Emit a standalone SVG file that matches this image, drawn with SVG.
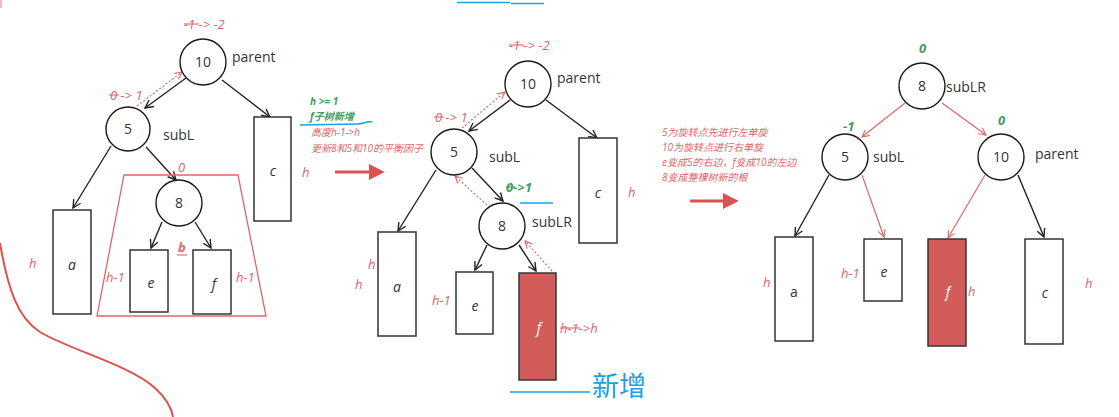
<svg xmlns="http://www.w3.org/2000/svg" width="1119" height="417" viewBox="0 0 1119 417">
<defs>
<style>
.bg{fill:#ffffff}
.nd{fill:#ffffff;stroke:#1a1a1a;stroke-width:1.4}
.bx{fill:#ffffff;stroke:#333333;stroke-width:1.5}
.bxr{fill:#d15c5a;stroke:#333333;stroke-width:1.5}
.num{font-family:"Open Sans","Liberation Sans",sans-serif;font-size:14px;fill:#333333;text-anchor:middle}
.lbl{font-family:"Open Sans","Liberation Sans",sans-serif;font-size:14px;fill:#333333}
.it{font-family:"Open Sans","Liberation Sans",sans-serif;font-size:14px;font-style:italic;fill:#333333;text-anchor:middle}
.itw{font-family:"Open Sans","Liberation Sans",sans-serif;font-size:14px;font-style:italic;fill:#ffffff;text-anchor:middle}
.rt{font-family:"Open Sans","Liberation Sans",sans-serif;font-size:13px;font-style:italic;fill:#e06666}
.gt{font-family:"Open Sans","Liberation Sans",sans-serif;font-size:13px;font-style:italic;font-weight:bold;fill:#449a5b}
.cjr{font-family:"Open Sans","Noto Sans CJK SC",sans-serif;font-size:10px;font-style:italic;fill:#e06666}
.cjg{font-family:"Open Sans","Noto Sans CJK SC",sans-serif;font-size:10px;font-style:italic;font-weight:bold;fill:#449a5b}
.blk{fill:none;stroke:#222222;stroke-width:1.4;marker-end:url(#ab)}
.red{fill:none;stroke:#e06666;stroke-width:1.2;marker-end:url(#ar)}
.dot{fill:none;stroke:#e06666;stroke-width:1.2;stroke-dasharray:2 2;marker-end:url(#ar)}
.strk{stroke:#e06666;stroke-width:1.1}
.strkg{stroke:#449a5b;stroke-width:1.1}
.big{fill:none;stroke:#d9534f;stroke-width:3}
.blue{fill:none;stroke:#1ba1e2;stroke-width:1.5}
</style>
<marker id="ab" viewBox="0 0 10 10" refX="9" refY="5" markerWidth="10" markerHeight="10" markerUnits="userSpaceOnUse" orient="auto">
<path d="M1,1 L9,5 L1,9" fill="none" stroke="#222222" stroke-width="1.4"/>
</marker>
<marker id="ar" viewBox="0 0 10 10" refX="9" refY="5" markerWidth="9" markerHeight="9" markerUnits="userSpaceOnUse" orient="auto">
<path d="M1,1 L9,5 L1,9" fill="none" stroke="#e06666" stroke-width="1.2"/>
</marker>
<marker id="af" viewBox="0 0 10 10" refX="2" refY="5" markerWidth="16" markerHeight="16" markerUnits="userSpaceOnUse" orient="auto">
<path d="M0,0 L10,5 L0,10 Z" fill="#d9534f"/>
</marker>
</defs>
<rect class="bg" x="0" y="0" width="1119" height="417"/>

<!-- decorations -->
<g id="decor">
<line x1="1" y1="0" x2="1" y2="8" stroke="#f4b8b8" stroke-width="2"/>
<path d="M0,243 C8,290 18,318 40,332 C70,350 130,365 155,388 C168,400 172,410 173,417" fill="none" stroke="#d9534f" stroke-width="2"/>
<path d="M457,2.5 L510,2.5 M511,3.5 L544,3.5" class="blue"/>
</g>

<!-- connectors -->
<g id="connectors">
<!-- left tree -->
<line class="blk" x1="186" y1="78" x2="145" y2="108"/>
<line class="blk" x1="222" y1="80" x2="270" y2="117"/>
<line class="blk" x1="111" y1="146" x2="73" y2="208"/>
<line class="blk" x1="146" y1="147" x2="176" y2="180"/>
<line class="blk" x1="162" y1="222" x2="151" y2="248"/>
<line class="blk" x1="195" y1="222" x2="211" y2="248"/>
<line class="dot" x1="137" y1="106" x2="182" y2="72"/>
<!-- middle tree -->
<line class="blk" x1="510" y1="100" x2="469" y2="131"/>
<line class="blk" x1="546" y1="100" x2="597" y2="138"/>
<line class="blk" x1="436" y1="170" x2="398" y2="231"/>
<line class="blk" x1="472" y1="168" x2="503" y2="201"/>
<line class="blk" x1="487" y1="245" x2="475" y2="270"/>
<line class="blk" x1="519" y1="245" x2="536" y2="271"/>
<line class="dot" x1="462" y1="128" x2="505" y2="92"/>
<line class="dot" x1="487" y1="205" x2="455" y2="176"/>
<line class="dot" x1="552" y1="271" x2="525" y2="241"/>
<!-- right tree -->
<line class="red" x1="905" y1="103" x2="862" y2="137"/>
<line class="red" x1="942" y1="103" x2="986" y2="135"/>
<line class="blk" x1="829" y1="175" x2="795" y2="236"/>
<line class="red" x1="862" y1="175" x2="884" y2="237"/>
<line class="red" x1="985" y1="175" x2="948" y2="238"/>
<line class="blk" x1="1018" y1="175" x2="1044" y2="237"/>
<!-- big arrows -->
<line class="big" x1="335" y1="172" x2="372" y2="172" marker-end="url(#af)"/>
<line class="big" x1="690" y1="201" x2="726" y2="201" marker-end="url(#af)"/>
</g>

<!-- left tree -->
<g id="L-trap">
<path d="M124,175 L238,175 L266,316 L97,316 Z" fill="none" stroke="#e06666" stroke-width="1.3"/>
<text class="rt" x="178" y="172">0</text>
<text class="rt" x="178" y="252" font-weight="bold">b</text>
<line class="strk" x1="177" y1="255" x2="187" y2="255"/>
</g>
<g id="L-n10">
<circle class="nd" cx="203" cy="62" r="23"/>
<text class="num" x="203" y="67">10</text>
<text class="lbl" x="232" y="62">parent</text>
<text class="rt" x="184" y="29">-1 -&gt; -2</text>
<line class="strk" x1="184" y1="24" x2="199" y2="24"/>
</g>
<g id="L-n5">
<circle class="nd" cx="128" cy="129" r="22"/>
<text class="num" x="128" y="134">5</text>
<text class="lbl" x="163" y="140">subL</text>
<text class="rt" x="110" y="100">0 -&gt; 1</text>
<line class="strk" x1="109" y1="95" x2="119" y2="95"/>
</g>
<g id="L-n8">
<circle class="nd" cx="179" cy="203" r="23"/>
<text class="num" x="179" y="208">8</text>
</g>
<g id="L-a">
<rect class="bx" x="53" y="210" width="38" height="104"/>
<text class="it" x="72" y="270">a</text>
<text class="rt" x="29" y="268">h</text>
</g>
<g id="L-c">
<rect class="bx" x="254" y="117" width="37" height="104"/>
<text class="it" x="273" y="176">c</text>
<text class="rt" x="302" y="177">h</text>
</g>
<g id="L-e">
<rect class="bx" x="130" y="250" width="38" height="62"/>
<text class="it" x="151" y="288">e</text>
<text class="rt" x="106" y="282">h-1</text>
</g>
<g id="L-f">
<rect class="bx" x="193" y="250" width="38" height="64"/>
<text class="it" x="214" y="289">f</text>
<text class="rt" x="236" y="282">h-1</text>
</g>

<!-- middle annotation -->
<g id="note1">
<text class="cjg" x="310" y="105">h &gt;= 1</text>
<text class="cjg" x="310" y="120">f子树新增</text>
<path d="M300,125 L358,124 C364,124 366,121 372,122" class="blue"/>
<text class="cjr" x="311" y="136">高度h-1-&gt;h</text>
<text class="cjr" x="311" y="152">更新8和5和10的平衡因子</text>
</g>

<!-- middle tree -->
<g id="M-n10">
<circle class="nd" cx="528" cy="84" r="23"/>
<text class="num" x="528" y="89">10</text>
<text class="lbl" x="557" y="83">parent</text>
<text class="rt" x="509" y="50">-1 -&gt; -2</text>
<line class="strk" x1="509" y1="45" x2="524" y2="45"/>
</g>
<g id="M-n5">
<circle class="nd" cx="454" cy="152" r="23"/>
<text class="num" x="454" y="157">5</text>
<text class="lbl" x="489" y="162">subL</text>
<text class="rt" x="435" y="122">0 -&gt; 1</text>
<line class="strk" x1="434" y1="117" x2="444" y2="117"/>
</g>
<g id="M-n8">
<circle class="nd" cx="502" cy="226" r="23"/>
<text class="num" x="502" y="231">8</text>
<text class="lbl" x="532" y="227">subLR</text>
<text class="gt" x="506" y="192" font-style="normal">0-&gt;1</text>
<line class="strkg" x1="506" y1="187" x2="515" y2="187"/>
<line class="blue" x1="520" y1="203" x2="553" y2="203"/>
</g>
<g id="M-a">
<rect class="bx" x="378" y="232" width="38" height="104"/>
<text class="it" x="397" y="292">a</text>
<text class="rt" x="368" y="269">h</text>
<text class="rt" x="355" y="289">h</text>
</g>
<g id="M-c">
<rect class="bx" x="579" y="138" width="38" height="105"/>
<text class="it" x="598" y="198">c</text>
<text class="rt" x="628" y="197">h</text>
</g>
<g id="M-e">
<rect class="bx" x="456" y="272" width="37" height="62"/>
<text class="it" x="475" y="311">e</text>
<text class="rt" x="432" y="305">h-1</text>
</g>
<g id="M-f">
<rect class="bxr" x="519" y="273" width="37" height="107"/>
<text class="itw" x="539" y="333">f</text>
<text class="rt" x="560" y="333">h-1-&gt;h</text>
<line class="strk" x1="560" y1="328" x2="580" y2="328"/>
</g>
<g id="new-label">
<line class="blue" x1="510" y1="392" x2="590" y2="392"/>
<text x="592" y="396" font-family="'Noto Sans CJK SC',sans-serif" font-size="27px" fill="#1ba1e2">新增</text>
</g>

<!-- right annotation -->
<g id="note2">
<text class="cjr" x="662" y="136" font-size="10.5px">5为旋转点先进行左单旋</text>
<text class="cjr" x="662" y="151" font-size="10.5px">10为旋转点进行右单旋</text>
<text class="cjr" x="662" y="166" font-size="10.5px">e变成5的右边，f变成10的左边</text>
<text class="cjr" x="662" y="181" font-size="10.5px">8变成整棵树新的根</text>
</g>

<!-- right tree -->
<g id="R-n8">
<circle class="nd" cx="922" cy="86" r="23"/>
<text class="num" x="922" y="91">8</text>
<text class="lbl" x="946" y="92">subLR</text>
<text class="gt" x="919" y="53">0</text>
</g>
<g id="R-n5">
<circle class="nd" cx="845" cy="157" r="23"/>
<text class="num" x="845" y="162">5</text>
<text class="lbl" x="873" y="162">subL</text>
<text class="gt" x="843" y="131">-1</text>
</g>
<g id="R-n10">
<circle class="nd" cx="1001" cy="157" r="23"/>
<text class="num" x="1001" y="162">10</text>
<text class="lbl" x="1035" y="159">parent</text>
<text class="gt" x="998" y="125">0</text>
</g>
<g id="R-a">
<rect class="bx" x="775" y="237" width="38" height="104"/>
<text class="num" x="794" y="297">a</text>
<text class="rt" x="763" y="287">h</text>
</g>
<g id="R-e">
<rect class="bx" x="864" y="239" width="38" height="62"/>
<text class="it" x="884" y="277">e</text>
<text class="rt" x="841" y="278">h-1</text>
</g>
<g id="R-f">
<rect class="bxr" x="928" y="239" width="38" height="107"/>
<text class="itw" x="948" y="297">f</text>
<text class="rt" x="968" y="296">h</text>
</g>
<g id="R-c">
<rect class="bx" x="1025" y="239" width="38" height="105"/>
<text class="it" x="1045" y="298">c</text>
<text class="rt" x="1085" y="288">h</text>
</g>
</svg>
